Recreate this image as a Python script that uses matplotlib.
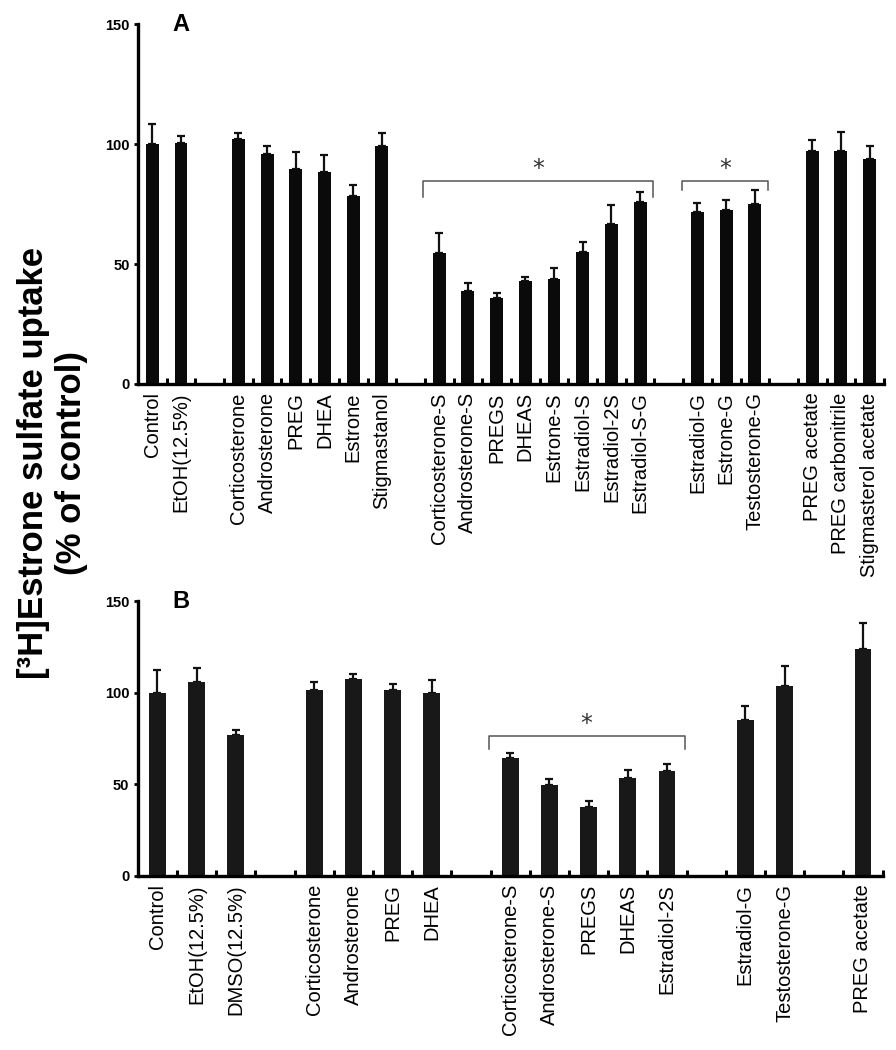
import numpy as np
import matplotlib.pyplot as plt
from matplotlib.ticker import FixedLocator

plt.rcParams['font.family'] = ['Liberation Sans', 'DejaVu Sans']

# panel A: groups of compounds, one empty slot between groups
A_groups = [
    ["Control", "EtOH(12.5%)"],
    ["Corticosterone", "Androsterone", "PREG", "DHEA", "Estrone", "Stigmastanol"],
    ["Corticosterone-S", "Androsterone-S", "PREGS", "DHEAS", "Estrone-S",
     "Estradiol-S", "Estradiol-2S", "Estradiol-S-G"],
    ["Estradiol-G", "Estrone-G", "Testosterone-G"],
    ["PREG acetate", "PREG carbonitrile", "Stigmasterol acetate"],
]
A_vals = [100, 100.5,
          102, 96, 89.5, 88.5, 78.5, 99,
          54.5, 38.8, 35.8, 43, 43.6, 55.2, 66.8, 75.8,
          71.6, 72.6, 75.2,
          97.2, 97.3, 93.8]
A_errs = [8.5, 3,
          2.6, 3.2, 7.3, 6.8, 4.4, 5.4,
          8.4, 3.2, 2.2, 1.4, 4.9, 3.9, 7.9, 4.4,
          4, 4.2, 5.8,
          4.5, 7.8, 5.5]
# (group index, bracket height, leg end)
A_brackets = [(2, 84.6, 78.0), (3, 84.6, 80.8)]

# panel B
B_groups = [
    ["Control", "EtOH(12.5%)", "DMSO(12.5%)"],
    ["Corticosterone", "Androsterone", "PREG", "DHEA"],
    ["Corticosterone-S", "Androsterone-S", "PREGS", "DHEAS", "Estradiol-2S"],
    ["Estradiol-G", "Testosterone-G"],
    ["PREG acetate"],
]
B_vals = [100, 105.8, 76.7,
          101.2, 107.2, 101.2, 100,
          64.5, 49.5, 37.5, 53.2, 57,
          85, 103.4,
          124]
B_errs = [12.3, 7.6, 2.7,
          4.8, 2.9, 3.3, 6.9,
          2.5, 3.5, 3.1, 4.5, 4.2,
          7.5, 11.3,
          13.8]
B_brackets = [(2, 76.5, 69.2)]


def panel(ax, groups, vals, errs, brackets, letter, width, color):
    pos, labels, spans = [], [], []
    k = 0
    for g in groups:
        spans.append((k, k + len(g) - 1))
        for name in g:
            pos.append(k + 0.5)
            labels.append(name)
            k += 1
        k += 1
    nslots = k - 1
    ax.bar(pos, vals, width=width, color=color, zorder=2)
    ax.errorbar(pos, vals, yerr=[np.zeros(len(vals)), errs], fmt='none',
                ecolor='#111111', elinewidth=1.6, capsize=3, capthick=1.6, zorder=1)
    for gi, y, y2 in brackets:
        s, e = spans[gi]
        x0, x1 = s - 0.05, e + 0.95
        ax.plot([x0, x0, x1, x1], [y2, y, y, y2], color='#555555', lw=1.1)
        ax.text((x0 + x1) / 2, y, "*", ha='center', va='bottom',
                fontsize=17, color='#333333', family='DejaVu Sans')
    ax.set_xlim(0, nslots)
    ax.set_ylim(0, 150)
    ax.set_xticks(pos)
    ax.set_xticklabels(labels, rotation=90, fontsize=14.5)
    ax.tick_params(axis='x', length=0, pad=6)
    ax.xaxis.set_minor_locator(FixedLocator(np.arange(1, nslots + 1)))
    ax.tick_params(axis='x', which='minor', direction='in', length=4, width=2.2)
    ax.set_yticks([0, 50, 100, 150])
    ax.set_yticklabels(['0', '50', '100', '150'], fontsize=10.5, fontweight='bold')
    ax.tick_params(axis='y', direction='out', length=3, width=2, pad=3)
    for sp in ['top', 'right']:
        ax.spines[sp].set_visible(False)
    for sp in ['left', 'bottom']:
        ax.spines[sp].set_linewidth(2.4)
    ax.text(0.046, 1.0, letter, transform=ax.transAxes, fontsize=17,
            fontweight='bold', va='center', ha='left')


fig = plt.figure(figsize=(8.96, 10.5), dpi=100)
axA = fig.add_axes([0.154, 0.6343, 0.8326, 0.3428])
axB = fig.add_axes([0.1537, 0.166, 0.8313, 0.2616])
panel(axA, A_groups, A_vals, A_errs, A_brackets, "A", 0.45, '#0a0a0a')
panel(axB, B_groups, B_vals, B_errs, B_brackets, "B", 0.43, '#181818')

fig.text(0.059, 0.559, "[\u00b3H]Estrone sulfate uptake\n(% of control)", rotation=90,
         ha='center', va='center', fontsize=25, fontweight='bold', linespacing=1.2)

fig.savefig("out.png", dpi=100)
